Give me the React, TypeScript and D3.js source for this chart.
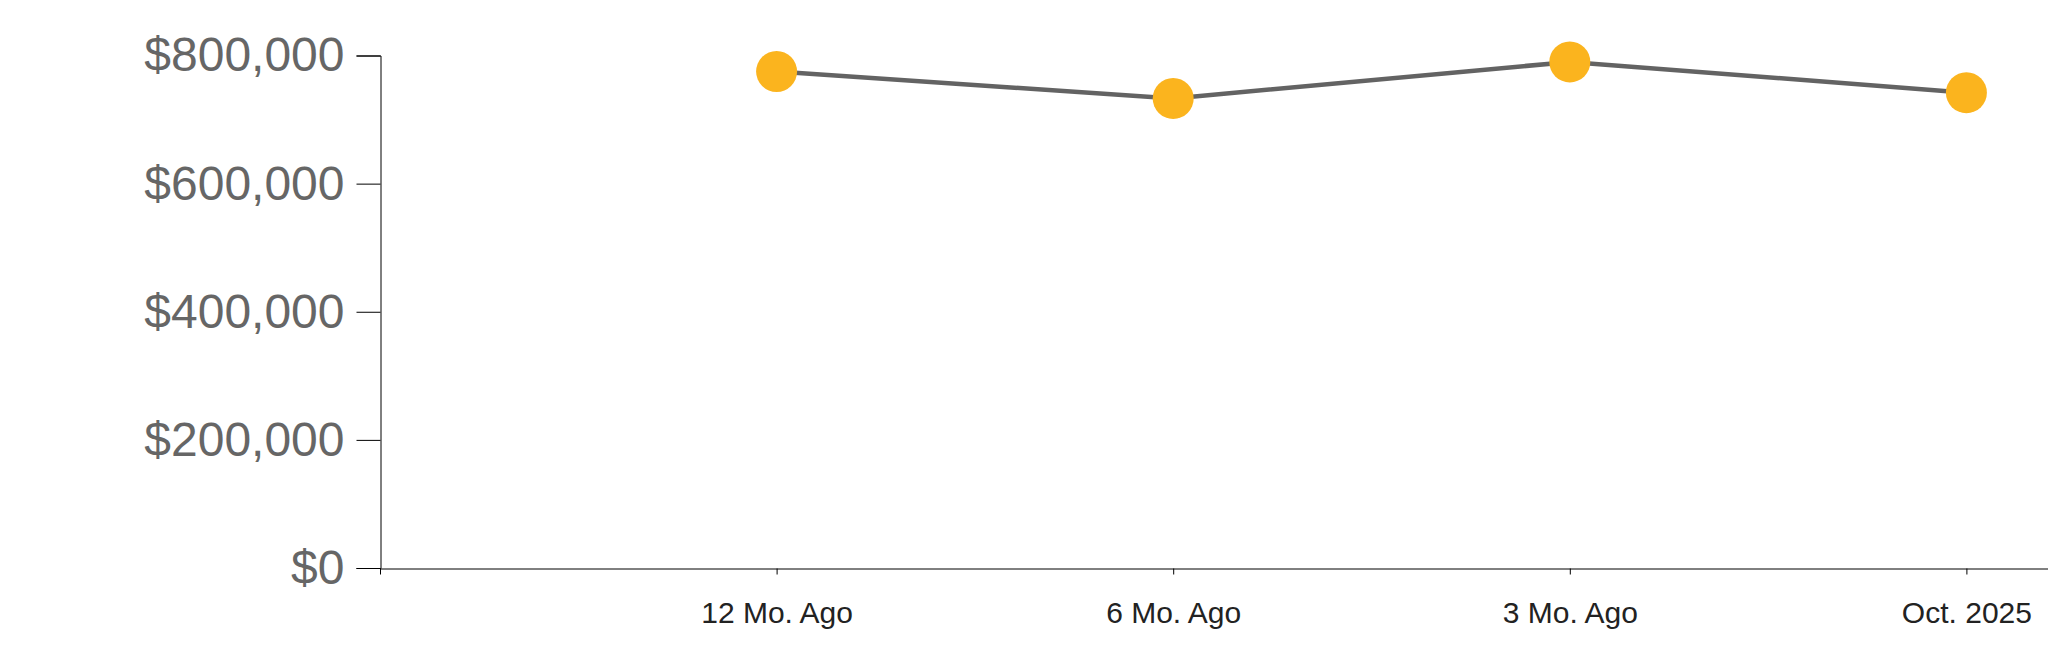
import React, { useEffect, useRef } from 'react';
import * as d3 from 'd3';

const periods = ['12 Mo. Ago', '6 Mo. Ago', '3 Mo. Ago', 'Oct. 2025'];
const medianPrice = [775000, 733000, 790000, 742000];
const yTicks = [0, 200000, 400000, 600000, 800000];

const WIDTH = 2048;
const HEIGHT = 663;

const App: React.FC = () => {
  const svgRef = useRef<SVGSVGElement>(null);

  useEffect(() => {
    if (!svgRef.current) return;
    const svg = d3.select(svgRef.current);
    svg.selectAll('*').remove();

    // Scales - x range runs past the window edge like the original
    const x = d3.scalePoint<string>().domain(periods).range([380, 2363]).padding(1);
    const y = d3.scaleLinear().domain([0, 800000]).range([568, 55.5]);

    // Y axis
    const yAxis = svg.append('g')
      .attr('transform', 'translate(380.5,0)')
      .call(d3.axisLeft(y).tickValues(yTicks).tickSize(24).tickPadding(12).tickFormat((d) => '$' + d3.format(',')(d as number)));
    yAxis.select('.domain').attr('stroke', '#000');
    yAxis.selectAll('.tick line').attr('stroke', '#000');
    yAxis.selectAll('.tick text')
      .attr('fill', '#666')
      .attr('font-size', 48)
      .attr('font-family', 'Arial, "Liberation Sans", sans-serif');

    // X axis
    const xAxis = svg.append('g')
      .attr('transform', 'translate(0,568.5)')
      .call(d3.axisBottom(x).tickSize(6).tickPadding(27));
    xAxis.select('.domain').attr('stroke', '#000');
    xAxis.selectAll('.tick line').attr('stroke', '#000');
    xAxis.selectAll('.tick text')
      .attr('fill', '#222')
      .attr('font-size', 30)
      .attr('font-family', 'Arial, "Liberation Sans", sans-serif');

    // Line
    const line = d3.line<number>()
      .x((_, i) => x(periods[i]) as number)
      .y((d) => y(d));

    svg.append('path')
      .datum(medianPrice)
      .attr('d', line)
      .attr('fill', 'none')
      .attr('stroke', '#636363')
      .attr('stroke-width', 4.5);

    // Points
    svg.selectAll('circle.pt')
      .data(medianPrice)
      .join('circle')
      .attr('class', 'pt')
      .attr('cx', (_, i) => x(periods[i]) as number)
      .attr('cy', (d) => y(d))
      .attr('r', 20.5)
      .attr('fill', '#fbb41e');
  }, []);

  return (
    <svg
      ref={svgRef}
      width={WIDTH}
      height={HEIGHT}
      style={{ position: 'absolute', left: 0, top: 0, background: '#fff' }}
    />
  );
};

export default App;
